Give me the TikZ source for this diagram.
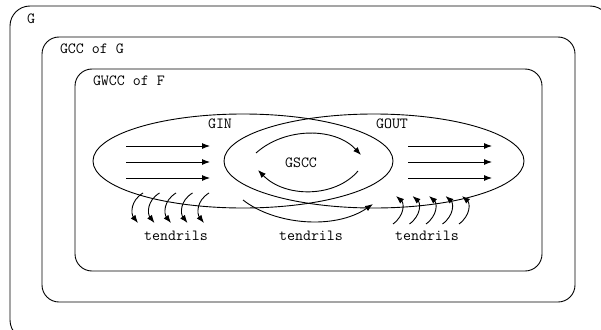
\documentclass[tikz,border=0pt]{standalone}
\usepackage{fontspec}
\usetikzlibrary{shapes.geometric,arrows.meta}

\begin{document}
\begin{tikzpicture}[x=1pt,y=-1pt,line width=0.9pt,
    box/.style={draw, rectangle, rounded corners=17pt, inner sep=0pt},
    lbl/.style={inner sep=0pt, font=\ttfamily\fontsize{15.5}{18}\selectfont},
    comp/.style={draw, ellipse, minimum width=300pt, minimum height=94pt, inner sep=0pt},
    >={Latex[length=8pt,width=6pt]}]
      \useasboundingbox (0,0) rectangle (601,329);
      \clip (0,0) rectangle (601,329);
      \node[name=g, box, rounded corners=20pt, minimum width=600pt, minimum height=334pt] at (310,173){};
      \node[name=gcc, box, minimum width=533pt, minimum height=265pt] at (308.5,169.5){};
      \node[name=gwcc, box, minimum width=467pt, minimum height=202pt] at (308.5,170){};
      \node[lbl, anchor=west] at ([xshift=17pt,yshift=-13pt]g.north west){G};
      \node[lbl, anchor=west] at ([xshift=18pt,yshift=-12pt]gcc.north west){GCC of G};
      \node[lbl, anchor=west] at ([xshift=18pt,yshift=-12pt]gwcc.north west){GWCC of F};
      \node[name=gin, comp] at (243,161){};
      \node[name=gout, comp] at (374,161){};
      \node[lbl] at (220,124){GIN};
      \node[lbl] at (392,124){GOUT};
      \node[lbl, name=gscc] at (301,163){GSCC};
      \foreach \y in {146,162,178} {
        \draw[->] (126,\y) -- (210,\y);
        \draw[->] (408,\y) -- (492,\y);
      }
      \draw[->] (256,153) .. controls (285,127) and (335,127) .. (361,155);
      \draw[->] (358,171) .. controls (335,198) and (285,198) .. (258,170);
      \draw[->] (243,200) .. controls (275,225) and (335,230) .. (373,204);
      \foreach \i in {0,...,4} {
        \draw[->] (143+16.5*\i,193) .. controls (130+16.5*\i,201) and (131+16.5*\i,214) .. (138+16.5*\i,223);
        \draw[->] (393+16.5*\i,224) .. controls (405+16.5*\i,215) and (404+16.5*\i,203) .. (396+16.5*\i,196);
      }
      \node[lbl, name=t1] at (176,236){tendrils};
      \node[lbl, name=t2] at (311,236){tendrils};
      \node[lbl, name=t3] at (427,236){tendrils};
    \end{tikzpicture}
\end{document}
